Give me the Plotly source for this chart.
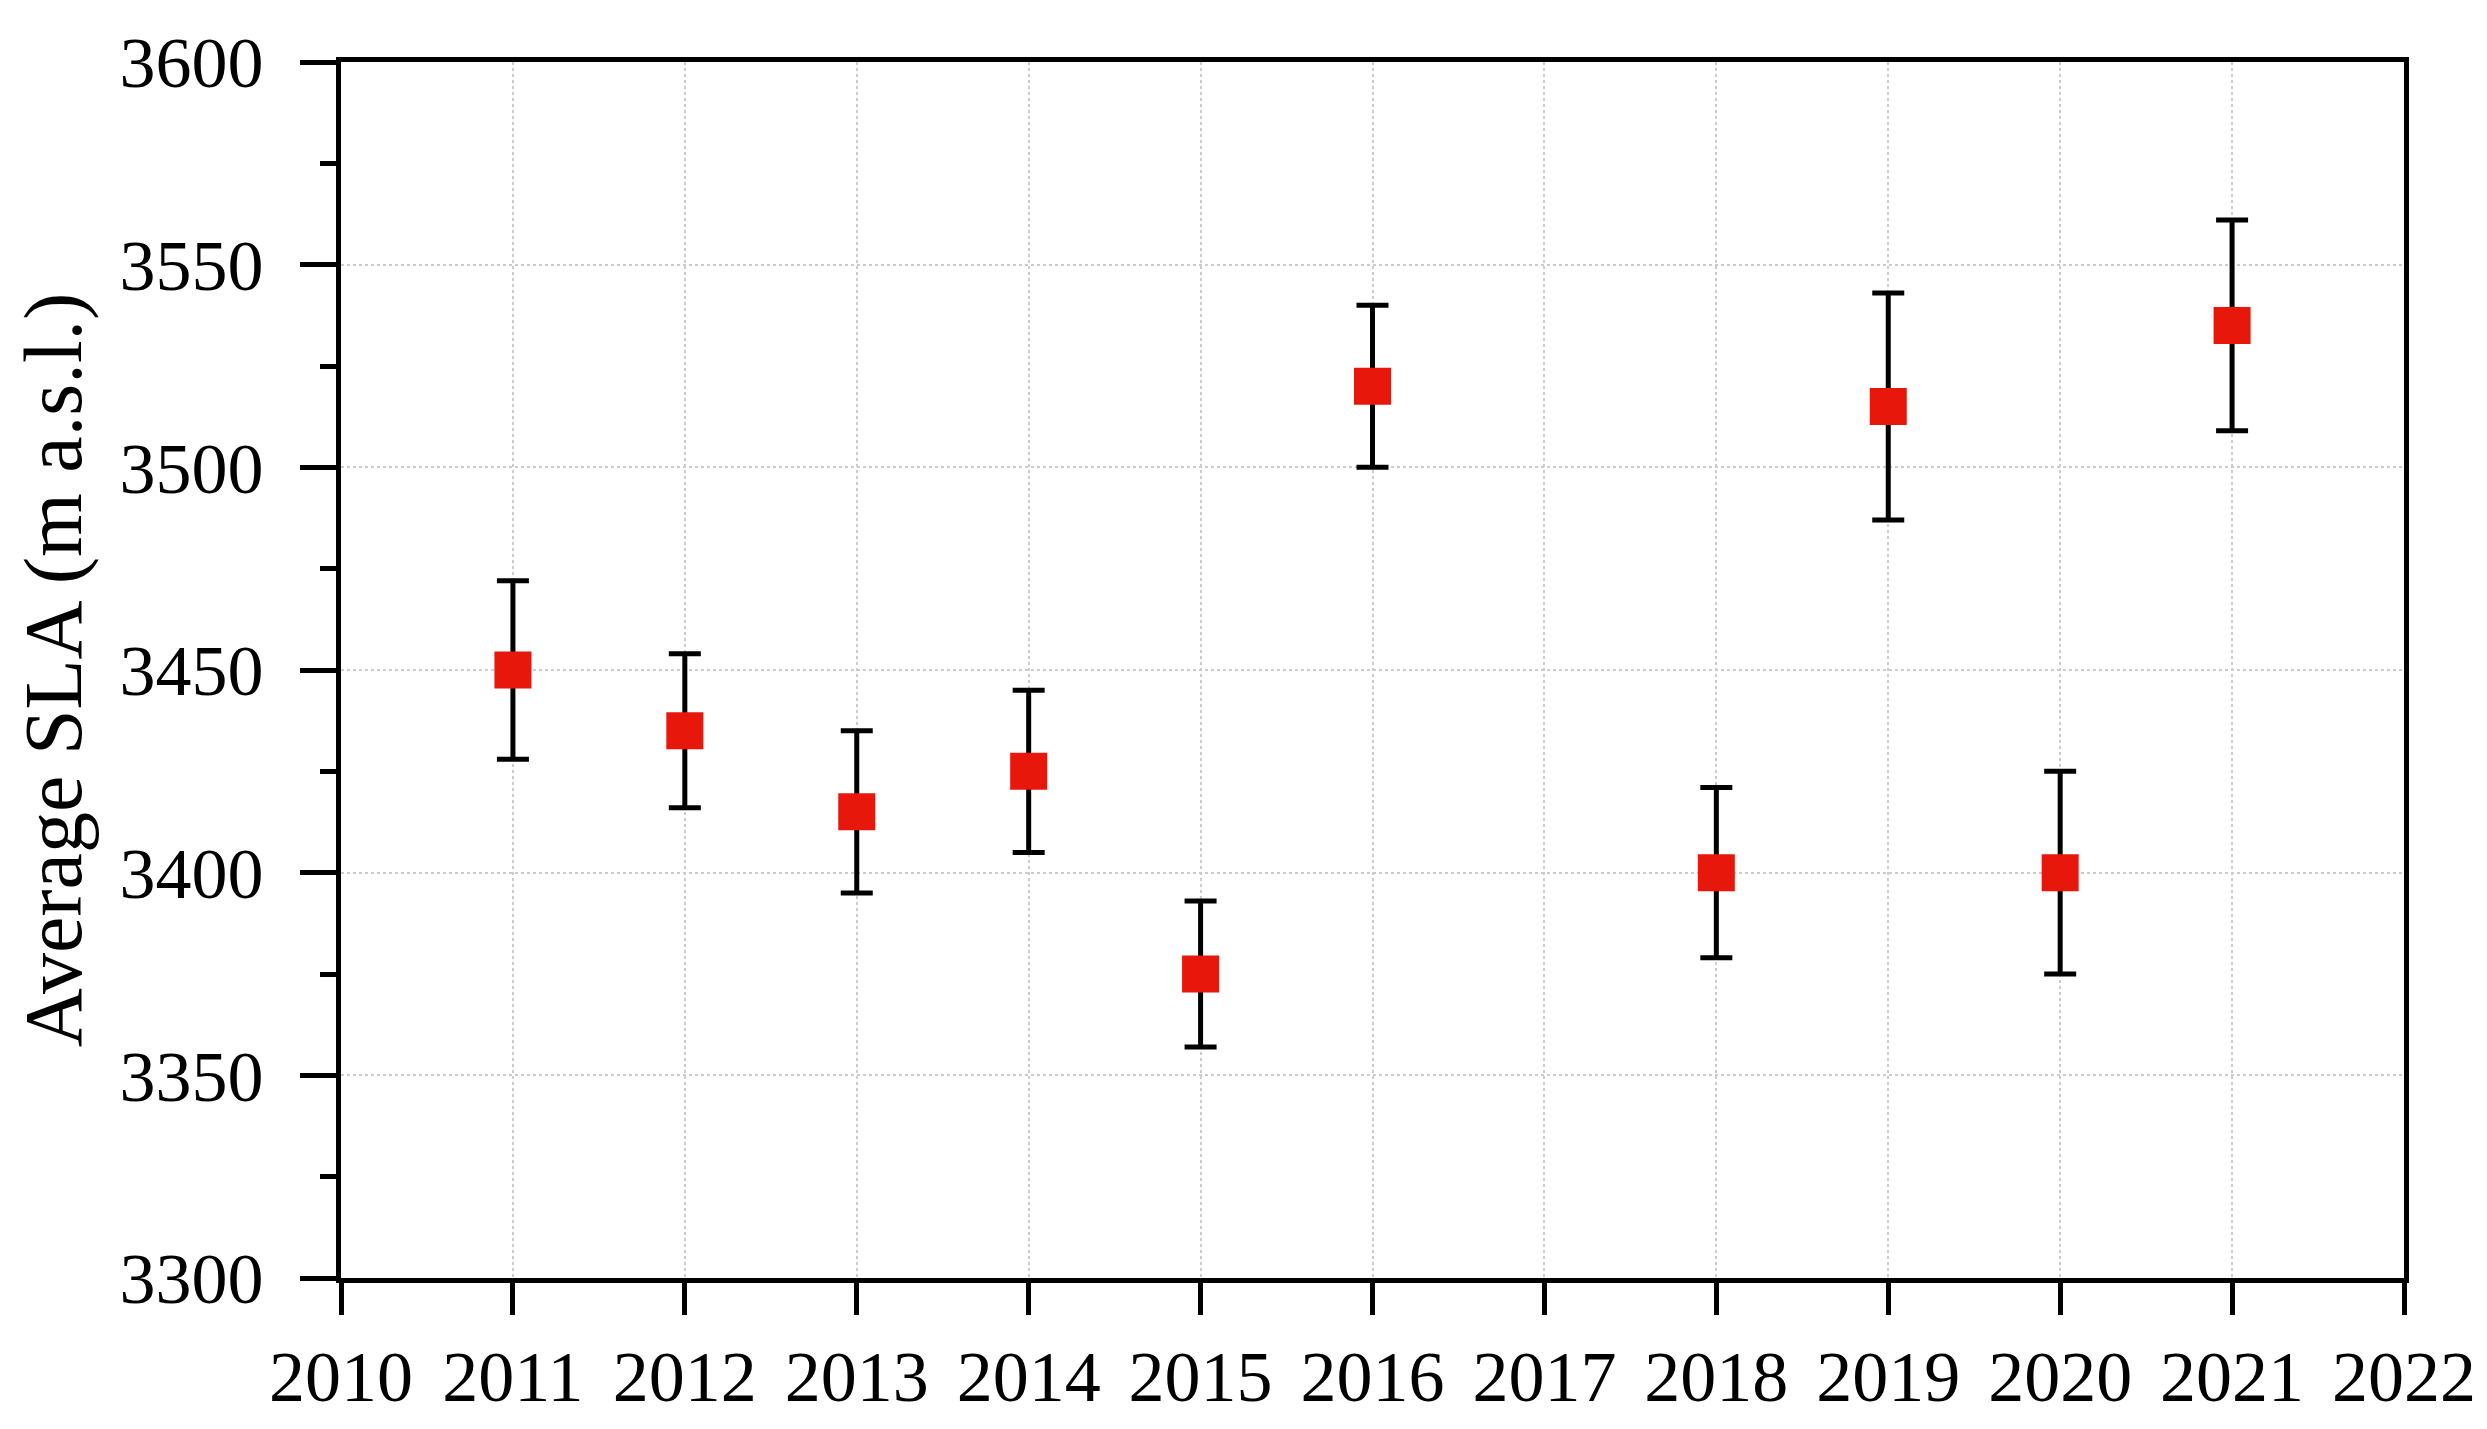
import plotly.graph_objects as go

years = [2011, 2012, 2013, 2014, 2015, 2016, 2018, 2019, 2020, 2021]
sla_mean = [3450, 3435, 3415, 3425, 3375, 3520, 3400, 3515, 3400, 3535]
sla_err = [22, 19, 20, 20, 18, 20, 21, 28, 25, 26]
x_ticks = list(range(2010, 2023))
y_ticks = [3300, 3350, 3400, 3450, 3500, 3550, 3600]

font_family = "Liberation Serif, Times New Roman, serif"

fig = go.Figure()
fig.add_trace(go.Scatter(
    x=years, y=sla_mean, mode="markers",
    marker=dict(symbol="square", size=37, color="#E8170C", line=dict(width=0)),
    error_y=dict(type="data", array=sla_err, visible=True, color="black",
                 thickness=5, width=16),
    showlegend=False,
))

axis_common = dict(
    showline=True, linewidth=5, linecolor="black", mirror=True,
    ticks="outside", tickwidth=5, tickcolor="black",
    showgrid=True, gridcolor="#cccccc", griddash="dot", gridwidth=2,
    zeroline=False,
    tickfont=dict(family=font_family, size=72, color="black"),
)

fig.update_xaxes(
    range=[2010, 2022], tickvals=x_ticks, ticktext=[str(v) for v in x_ticks],
    ticklen=32, **axis_common,
)
fig.update_yaxes(
    range=[3300, 3600], tickvals=y_ticks, ticklen=36, ticklabelstandoff=22,
    minor=dict(dtick=25, ticklen=16, tickwidth=5, ticks="outside",
               tickcolor="black", showgrid=False),
    title=dict(text="Average SLA (m a.s.l.)",
               font=dict(family=font_family, size=82, color="black"),
               standoff=14),
    **axis_common,
)

fig.update_layout(
    width=2487, height=1429,
    margin=dict(l=333, r=91, t=54, b=159),
    plot_bgcolor="white", paper_bgcolor="white",
)

fig.write_html("out.html")
